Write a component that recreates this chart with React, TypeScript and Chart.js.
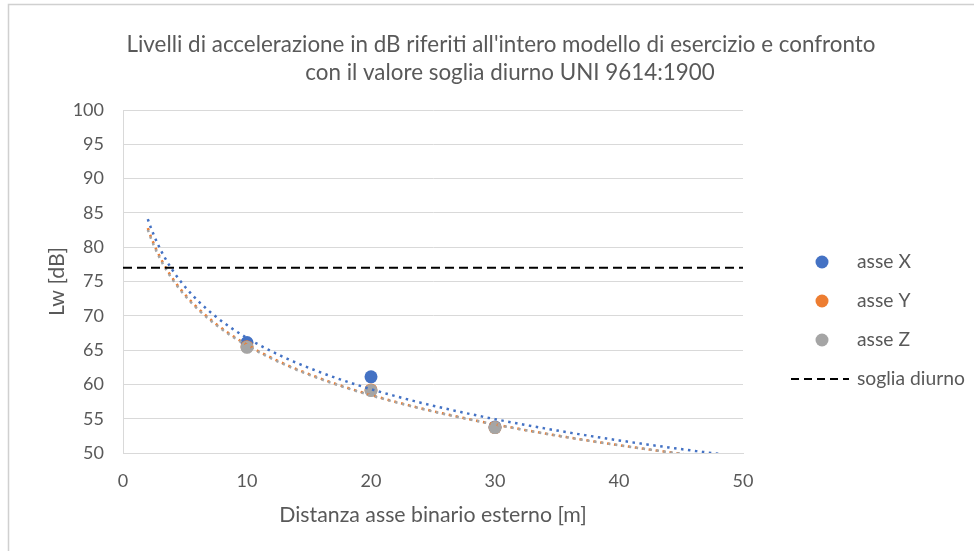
import React, { useEffect, useRef } from "react";
import { Chart, registerables } from "chart.js";

Chart.register(...registerables);

// Measured distances from the outer track axis [m]
const distances = [10, 20, 30];
// Acceleration levels Lw [dB] for each axis
const asseX = [66.1, 61.1, 53.8];
const asseY = [65.5, 59.2, 53.7];
const asseZ = [65.4, 59.1, 53.7];
// Daytime threshold UNI 9614
const sogliaDiurno = 77;

// Trend line range (backward / forward forecast of the log fit)
const trendFrom = 2;
const trendTo = 50;

const titleLines = [
  "Livelli di accelerazione in dB riferiti all'intero modello di esercizio e confronto",
  "con il valore soglia diurno UNI 9614:1900",
];
const xTitle = "Distanza asse binario esterno [m]";
const yTitle = "Lw [dB]";
const legendLabels = ["asse X", "asse Y", "asse Z", "soglia diurno"];

const BLUE = "#4472C4";
const ORANGE = "#ED7D31";
const GRAY = "#A5A5A5";
const TEXT = "#595959";
const GRID = "#D9D9D9";
const FONT = "Lato, 'Open Sans', sans-serif";

// Least-squares logarithmic fit y = a + b ln(x)
function logFit(xs: number[], ys: number[]) {
  const lx = xs.map((v) => Math.log(v));
  const n = xs.length;
  const mx = lx.reduce((s, v) => s + v, 0) / n;
  const my = ys.reduce((s, v) => s + v, 0) / n;
  let sxy = 0;
  let sxx = 0;
  for (let i = 0; i < n; i++) {
    sxy += (lx[i] - mx) * (ys[i] - my);
    sxx += (lx[i] - mx) * (lx[i] - mx);
  }
  const b = sxy / sxx;
  return { a: my - b * mx, b };
}

function trendPoints(ys: number[]) {
  const { a, b } = logFit(distances, ys);
  const pts: { x: number; y: number }[] = [];
  const steps = 192;
  for (let i = 0; i <= steps; i++) {
    const x = trendFrom + ((trendTo - trendFrom) * i) / steps;
    pts.push({ x, y: a + b * Math.log(x) });
  }
  return pts;
}

const toPoints = (ys: number[]) => distances.map((x, i) => ({ x, y: ys[i] }));

const decor = {
  id: "decor",
  beforeDraw(chart: any) {
    const ctx = chart.ctx as CanvasRenderingContext2D;
    ctx.save();
    ctx.fillStyle = "#fff";
    ctx.fillRect(0, 0, chart.width, chart.height);
    ctx.strokeStyle = "#D0D0D0";
    ctx.lineWidth = 1.5;
    ctx.beginPath();
    ctx.moveTo(8.5, chart.height);
    ctx.lineTo(8.5, 4.5);
    ctx.lineTo(chart.width, 4.5);
    ctx.stroke();
    ctx.restore();
  },
  afterDraw(chart: any) {
    const ctx = chart.ctx as CanvasRenderingContext2D;
    const area = chart.chartArea;
    ctx.save();
    ctx.fillStyle = TEXT;
    ctx.textBaseline = "middle";

    // chart title
    ctx.textAlign = "center";
    ctx.font = `22.4px ${FONT}`;
    ctx.fillText(titleLines[0], 501, 45);
    ctx.fillText(titleLines[1], 510, 73);

    // axis titles
    ctx.font = `21.3px ${FONT}`;
    ctx.fillText(xTitle, (area.left + area.right) / 2, 515);
    ctx.save();
    ctx.translate(57, (area.top + area.bottom) / 2);
    ctx.rotate(-Math.PI / 2);
    ctx.fillText(yTitle, 0, 0);
    ctx.restore();

    // legend
    const rows = [262, 301, 340, 379];
    const colors = [BLUE, ORANGE, GRAY];
    ctx.textAlign = "left";
    ctx.font = `19.3px ${FONT}`;
    for (let i = 0; i < 3; i++) {
      ctx.beginPath();
      ctx.fillStyle = colors[i];
      ctx.arc(822, rows[i], 6.5, 0, Math.PI * 2);
      ctx.fill();
    }
    ctx.strokeStyle = "#000";
    ctx.lineWidth = 2;
    ctx.setLineDash([8, 5]);
    ctx.beginPath();
    ctx.moveTo(791, rows[3]);
    ctx.lineTo(849, rows[3]);
    ctx.stroke();
    ctx.setLineDash([]);
    ctx.fillStyle = TEXT;
    legendLabels.forEach((l, i) => ctx.fillText(l, 857, rows[i]));
    ctx.restore();
  },
};

export default function App() {
  const ref = useRef<HTMLCanvasElement>(null);

  useEffect(() => {
    if (!ref.current) return;
    const dotted = {
      type: "line" as const,
      showLine: true,
      pointRadius: 0,
      borderWidth: 2.5,
      borderDash: [2.5, 4.5],
      fill: false,
      tension: 0,
    };
    const chart = new Chart(ref.current, {
      type: "scatter",
      data: {
        datasets: [
          { ...dotted, label: "trend X", data: trendPoints(asseX), borderColor: BLUE, order: 1 },
          { ...dotted, label: "trend Y", data: trendPoints(asseY), borderColor: ORANGE, order: 2 },
          { ...dotted, label: "trend Z", data: trendPoints(asseZ), borderColor: GRAY, order: 1 },
          {
            type: "line",
            label: legendLabels[3],
            data: [
              { x: 0, y: sogliaDiurno },
              { x: 50, y: sogliaDiurno },
            ],
            borderColor: "#000",
            borderWidth: 2,
            borderDash: [9, 5],
            pointRadius: 0,
            showLine: true,
            order: 0,
          },
          { label: legendLabels[0], data: toPoints(asseX), backgroundColor: BLUE, borderWidth: 0, pointRadius: 6.5, order: 5 },
          { label: legendLabels[1], data: toPoints(asseY), backgroundColor: ORANGE, borderWidth: 0, pointRadius: 6.5, order: 4 },
          { label: legendLabels[2], data: toPoints(asseZ), backgroundColor: GRAY, borderWidth: 0, pointRadius: 6.5, order: 3 },
        ],
      } as any,
      options: {
        responsive: false,
        animation: false,
        layout: { padding: { left: 0, top: 110, right: 231, bottom: 0 } },
        plugins: { legend: { display: false }, title: { display: false }, tooltip: { enabled: false } },
        scales: {
          x: {
            type: "linear",
            min: 0,
            max: 50,
            ticks: { stepSize: 10, color: TEXT, font: { family: FONT, size: 18 }, padding: 17 },
            grid: { display: false, drawTicks: false },
            border: { display: true, color: GRID, width: 1 },
            afterFit: (s: any) => {
              s.height = 98;
            },
          },
          y: {
            type: "linear",
            min: 50,
            max: 100,
            ticks: { stepSize: 5, color: TEXT, font: { family: FONT, size: 18 }, padding: 19 },
            grid: { color: GRID, lineWidth: 1, drawTicks: false },
            border: { display: true, color: GRID, width: 1 },
            afterFit: (s: any) => {
              s.width = 123;
            },
          },
        },
      } as any,
      plugins: [decor],
    });
    return () => chart.destroy();
  }, []);

  return (
    <div style={{ position: "fixed", left: 0, top: 0, width: 974, height: 551, background: "#fff" }}>
      <canvas ref={ref} width={974} height={551} style={{ display: "block" }} />
    </div>
  );
}
